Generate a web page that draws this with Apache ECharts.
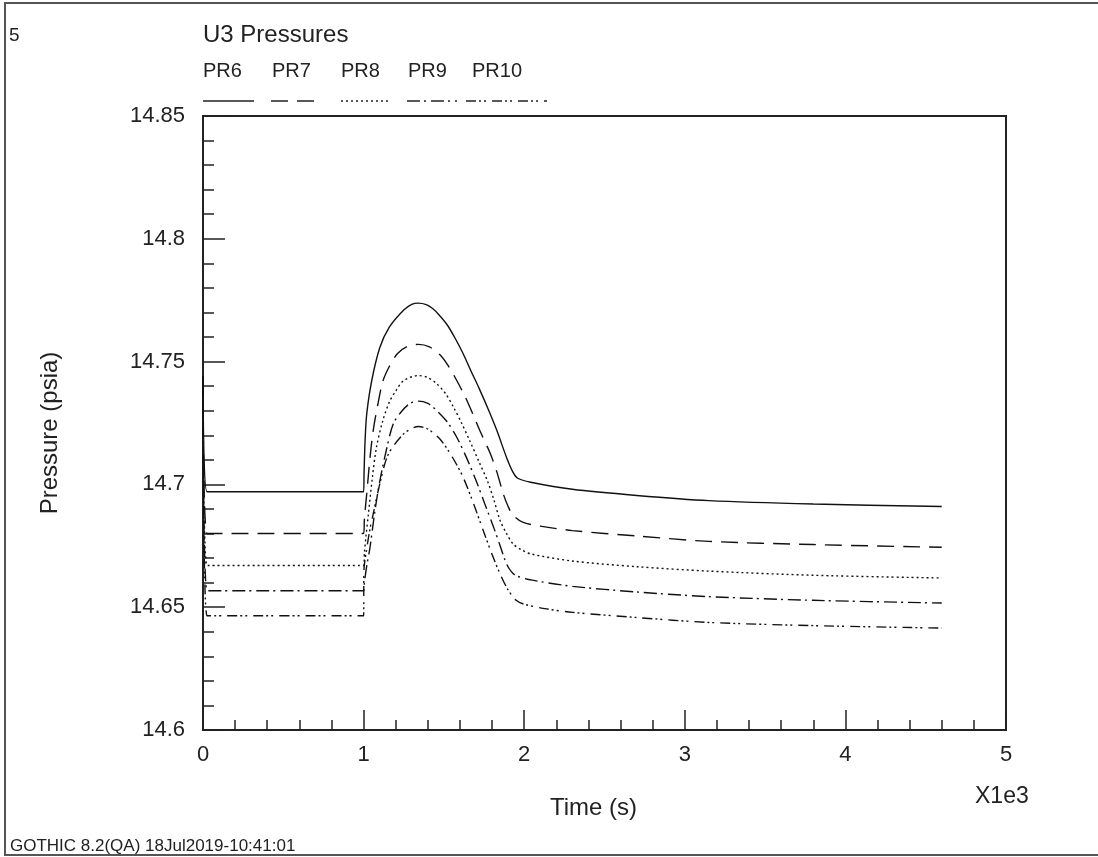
<!DOCTYPE html>
<html>
<head>
<meta charset="utf-8">
<script src="https://cdn.jsdelivr.net/npm/echarts@6/dist/echarts.min.js"></script>
<style>
  html, body { margin: 0; padding: 0; background: #fff; }
  #chart { width: 1098px; height: 857px; }
</style>
</head>
<body>
<div id="chart"></div>
<script>
// time in units of 1e3 s, pressure in psia
const names = ["PR6", "PR7", "PR8", "PR9", "PR10"];
const xTicks = [0, 1, 2, 3, 4, 5];
const yTicks = ["14.6", "14.65", "14.7", "14.75", "14.8", "14.85"];

const pr6 = [[0, 14.744], [0.025, 14.697], [1.0, 14.697], [1.003, 14.705], [1.01, 14.719], [1.02, 14.729],
  [1.05, 14.742], [1.10, 14.7555], [1.16, 14.764], [1.25, 14.771], [1.30, 14.7733], [1.34, 14.7738],
  [1.39, 14.7732], [1.43, 14.7716], [1.47, 14.769], [1.52, 14.765], [1.57, 14.7595], [1.62, 14.7532],
  [1.67, 14.746], [1.72, 14.739], [1.78, 14.730], [1.83, 14.7219], [1.89, 14.711], [1.93, 14.705],
  [1.96, 14.7025], [2.04, 14.7009], [2.3, 14.698], [2.7, 14.6955], [3.15, 14.6934], [3.8, 14.692], [4.6, 14.691]];

const pr7 = [[0, 14.744], [0.025, 14.680], [1.0, 14.680], [1.005, 14.686], [1.02, 14.6965], [1.04, 14.711],
  [1.06, 14.722], [1.09, 14.733], [1.12, 14.742], [1.16, 14.748], [1.21, 14.7532], [1.27, 14.7561],
  [1.34, 14.757], [1.41, 14.756], [1.48, 14.7525], [1.53, 14.748], [1.58, 14.7423], [1.63, 14.736],
  [1.68, 14.7287], [1.73, 14.721], [1.79, 14.7124], [1.83, 14.705], [1.87, 14.6961], [1.90, 14.691],
  [1.93, 14.6875], [1.99, 14.6846], [2.1, 14.683], [2.3, 14.6812], [2.7, 14.679], [3.15, 14.6768],
  [3.8, 14.6755], [4.6, 14.6744]];

const pr8 = [[0, 14.744], [0.025, 14.667], [1.0, 14.667], [1.005, 14.672], [1.015, 14.679], [1.03, 14.688],
  [1.055, 14.703], [1.08, 14.7151], [1.12, 14.726], [1.16, 14.7335], [1.20, 14.738], [1.25, 14.7423],
  [1.34, 14.7443], [1.40, 14.7435], [1.455, 14.741], [1.51, 14.737], [1.56, 14.7314], [1.61, 14.725],
  [1.66, 14.7179], [1.72, 14.709], [1.77, 14.7016], [1.81, 14.694], [1.85, 14.6853], [1.89, 14.680],
  [1.93, 14.6758], [1.98, 14.6735], [2.04, 14.6717], [2.3, 14.6688], [2.7, 14.6665], [3.15, 14.6647],
  [3.8, 14.663], [4.6, 14.6619]];

const pr9 = [[0, 14.744], [0.025, 14.6567], [1.0, 14.6567], [1.005, 14.660], [1.02, 14.667], [1.04, 14.6744],
  [1.07, 14.689], [1.10, 14.701], [1.14, 14.7135], [1.185, 14.7247], [1.24, 14.730], [1.29, 14.733],
  [1.34, 14.7339], [1.40, 14.733], [1.455, 14.7301], [1.52, 14.7255], [1.58, 14.7192], [1.64, 14.711],
  [1.70, 14.7016], [1.755, 14.692], [1.81, 14.6825], [1.85, 14.675], [1.89, 14.6676], [1.92, 14.6645],
  [1.95, 14.6628], [2.05, 14.661], [2.3, 14.6585], [2.7, 14.6562], [3.15, 14.6543], [3.8, 14.6528], [4.6, 14.6517]];

const pr10 = [[0, 14.744], [0.025, 14.6465], [1.0, 14.6465], [1.002, 14.665], [1.02, 14.674], [1.04, 14.682],
  [1.06, 14.688], [1.10, 14.700], [1.145, 14.711], [1.19, 14.716], [1.25, 14.7206], [1.30, 14.7228],
  [1.34, 14.7236], [1.40, 14.7225], [1.475, 14.7185], [1.53, 14.7135], [1.58, 14.708], [1.62, 14.7029],
  [1.68, 14.693], [1.745, 14.6812], [1.80, 14.6715], [1.85, 14.6635], [1.90, 14.657], [1.95, 14.6528],
  [2.0, 14.6512], [2.14, 14.6493], [2.3, 14.6479], [2.7, 14.6458], [3.15, 14.6438], [3.8, 14.6425], [4.6, 14.6415]];

const seriesData = [pr6, pr7, pr8, pr9, pr10];
const dashes = ["solid", [17, 9], [2, 3], [13, 4, 2, 5], [10, 3, 2, 3, 2, 6]];

const FONT = "Liberation Sans, Arial, sans-serif";
const legendX = [203, 272, 341, 408, 472];
const lineX = [203, 271, 341, 407, 466];
const lineW = [51, 43, 48, 50, 81];

let myChart = echarts.init(document.getElementById("chart"));

let graphics = [
  { type: "rect", shape: { x: 5, y: 3, width: 1200, height: 852 },
    style: { fill: "none", stroke: "#555", lineWidth: 2 }, silent: true },
  { type: "text", x: 9, y: 36, style: { text: "5", font: "19px " + FONT, fill: "#222", textVerticalAlign: "middle" } },
  { type: "text", x: 203, y: 35, style: { text: "U3 Pressures", font: "24px " + FONT, fill: "#222", textVerticalAlign: "middle" } },
  { type: "text", x: 550, y: 808, style: { text: "Time (s)", font: "24px " + FONT, fill: "#222", textVerticalAlign: "middle" } },
  { type: "text", x: 975, y: 797, style: { text: "X1e3", font: "23px " + FONT, fill: "#222", textVerticalAlign: "middle" } },
  { type: "text", x: 10, y: 846, style: { text: "GOTHIC 8.2(QA) 18Jul2019-10:41:01", font: "17px " + FONT, fill: "#222", textVerticalAlign: "middle" } },
  { type: "text", x: 50, y: 433, rotation: Math.PI / 2,
    style: { text: "Pressure (psia)", font: "24px " + FONT, fill: "#222", textAlign: "center", textVerticalAlign: "middle" } },
];
names.forEach(function (n, i) {
  graphics.push({ type: "text", x: legendX[i], y: 71, style: { text: n, font: "20px " + FONT, fill: "#222", textVerticalAlign: "middle" } });
  graphics.push({
    type: "line",
    shape: { x1: lineX[i], y1: 101, x2: lineX[i] + lineW[i], y2: 101 },
    style: { stroke: "#222", lineWidth: 1.5, lineDash: dashes[i] === "solid" ? null : dashes[i] },
  });
});

myChart.setOption({
  animation: false,
  backgroundColor: "#fff",
  graphic: graphics,
  grid: {
    left: 203,
    top: 116,
    width: 803,
    height: 614,
    show: true,
    borderColor: "#222",
    borderWidth: 2,
  },
  xAxis: {
    type: "value",
    min: 0,
    max: 5,
    interval: 1,
    axisLine: { lineStyle: { color: "#222", width: 2 } },
    axisTick: { inside: true, length: 20, lineStyle: { color: "#222", width: 1.5 } },
    minorTick: { show: true, splitNumber: 5, length: 10, lineStyle: { color: "#222", width: 1.5 } },
    splitLine: { show: false },
    axisLabel: {
      margin: 14,
      color: "#222",
      fontSize: 22,
      fontFamily: FONT,
      formatter: function (v) {
        return xTicks.indexOf(Math.round(v)) >= 0 ? String(Math.round(v)) : "";
      },
    },
  },
  yAxis: {
    type: "value",
    min: 14.6,
    max: 14.85,
    interval: 0.05,
    axisLine: { lineStyle: { color: "#222", width: 2 } },
    axisTick: { inside: true, length: 22, lineStyle: { color: "#222", width: 1.5 } },
    minorTick: { show: true, splitNumber: 5, length: 11, lineStyle: { color: "#222", width: 1.5 } },
    splitLine: { show: false },
    axisLabel: {
      margin: 18,
      color: "#222",
      fontSize: 22,
      fontFamily: FONT,
      formatter: function (v) {
        let k = Math.round((v - 14.6) / 0.05);
        return yTicks[k] || "";
      },
    },
  },
  series: seriesData.map(function (d, i) {
    return {
      name: names[i],
      type: "line",
      data: d,
      showSymbol: false,
      smooth: 0.3,
      lineStyle: { color: "#111", width: 1.4, type: dashes[i] },
    };
  }),
});
</script>
</body>
</html>
